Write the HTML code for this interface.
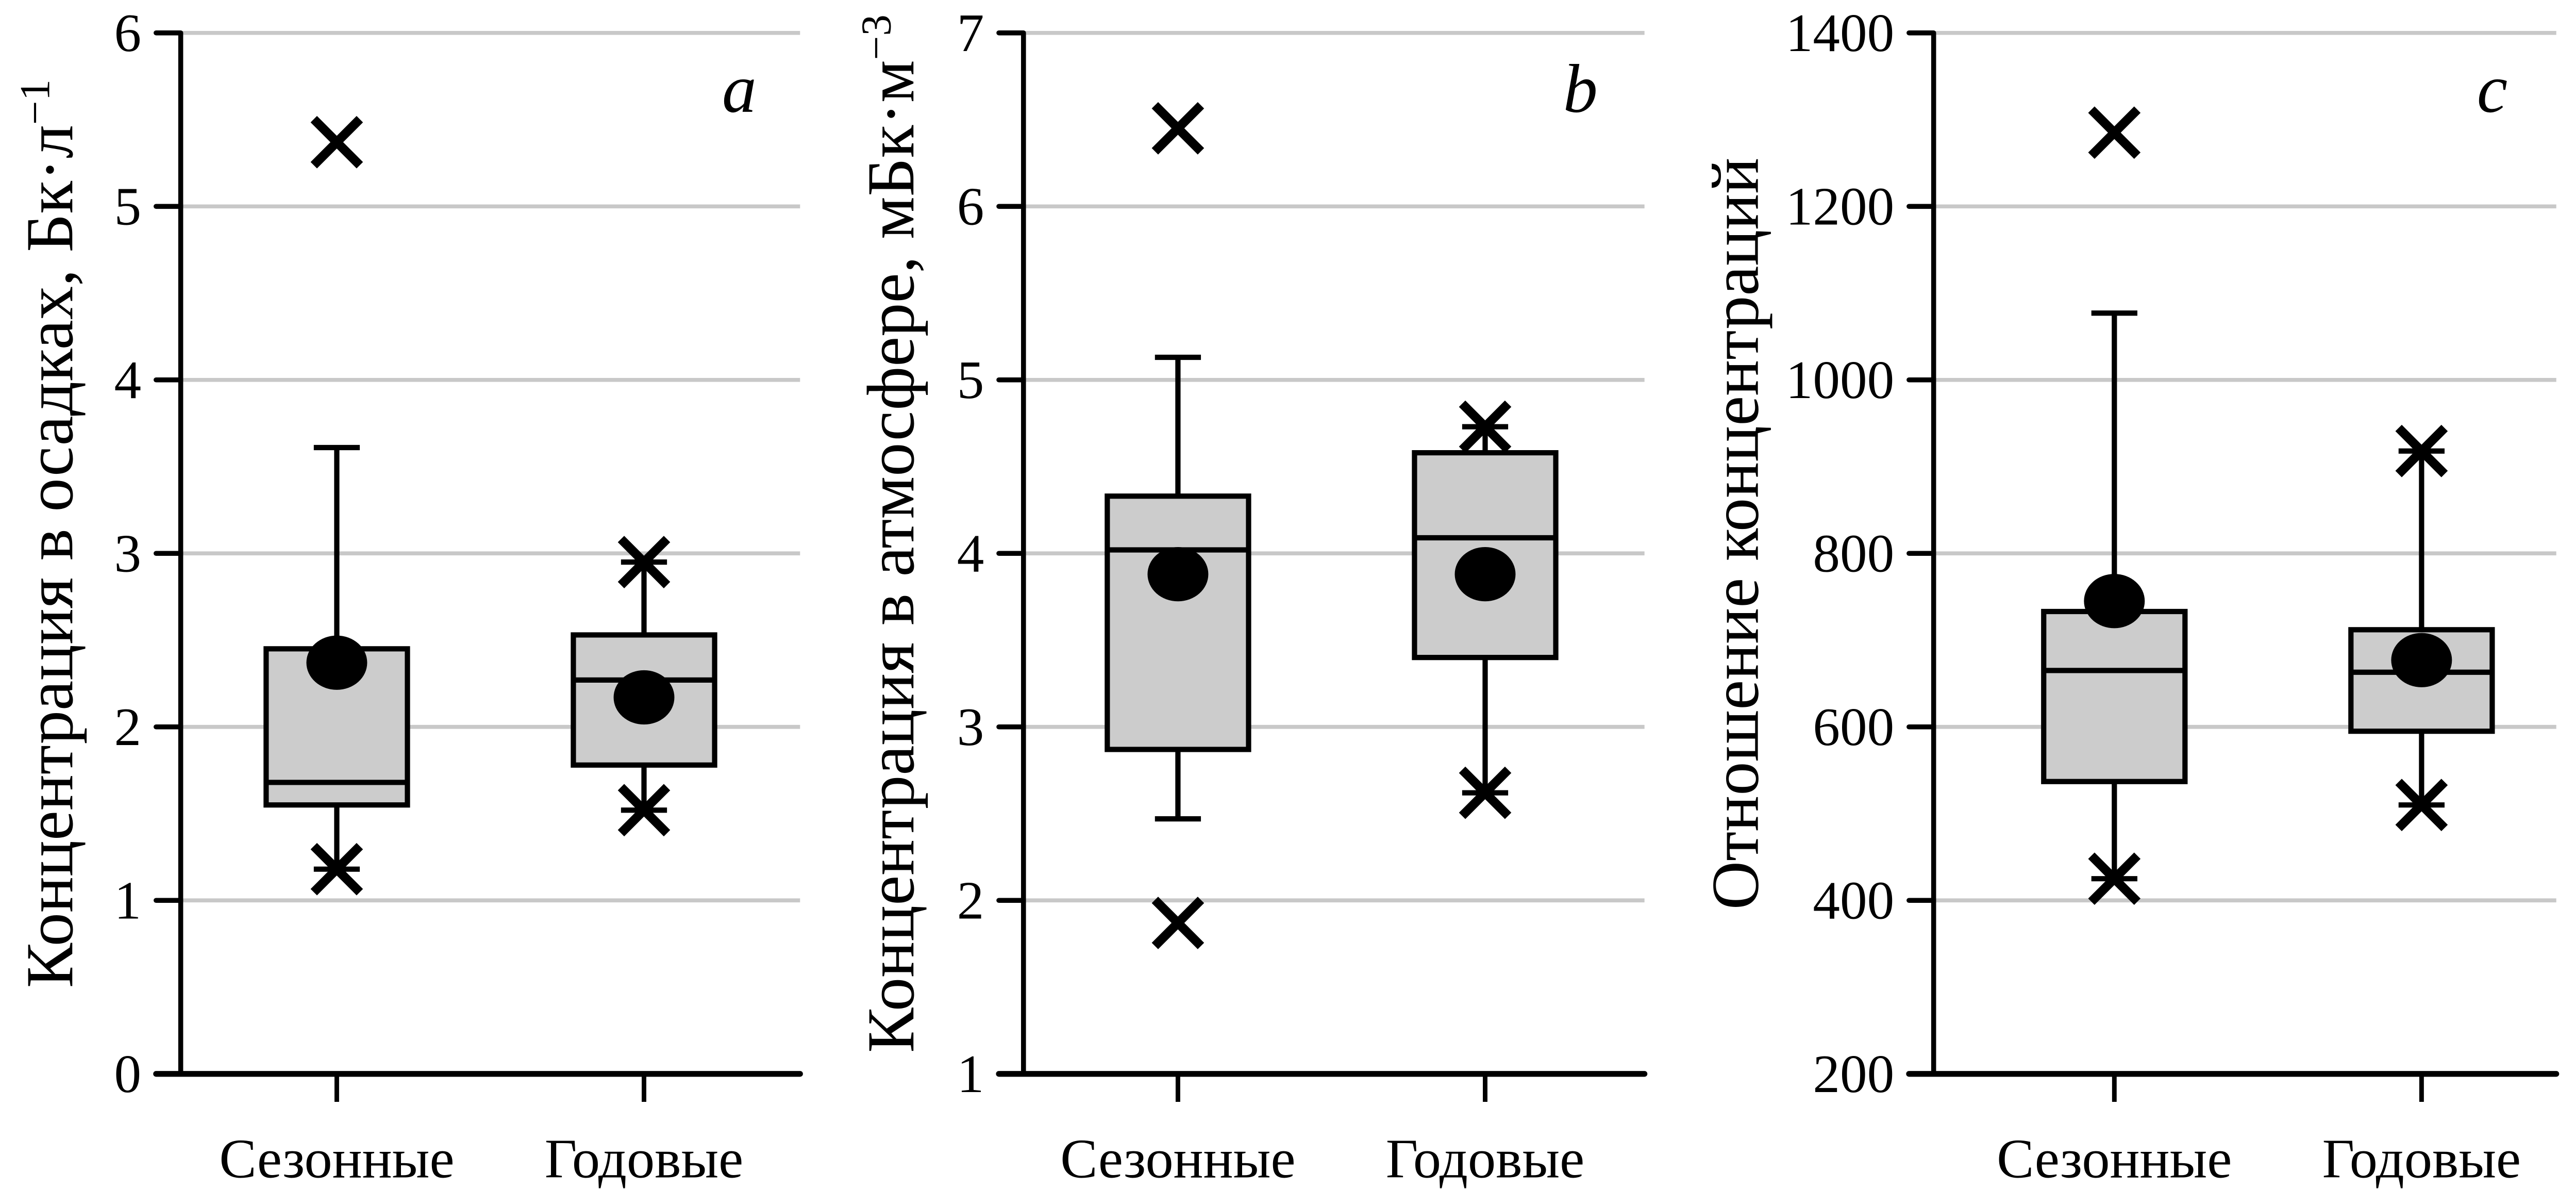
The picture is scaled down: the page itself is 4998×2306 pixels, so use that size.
<!DOCTYPE html>
<html><head><meta charset="utf-8">
<style>html,body{margin:0;padding:0;background:#fff}svg{display:block}svg text{font-family:"Liberation Serif","Times New Roman","DejaVu Serif","Noto Serif CJK SC",serif}</style>
</head><body>
<svg id="chart" xmlns="http://www.w3.org/2000/svg" width="4998" height="2306" viewBox="0 0 1568 723" preserveAspectRatio="none"></svg>
<script>
const categories = ['Сезонные','Годовые'];
// panel a
const aTicks = [0,1,2,3,4,5,6];
const aQ1 = [1.55,1.78], aMed = [1.68,2.27], aQ3 = [2.45,2.53], aMean = [2.37,2.17];
const aWLo = [1.18,1.52], aWHi = [3.61,2.95], aXLo = [1.18,1.52], aXHi = [5.37,2.95];
// panel b
const bTicks = [1,2,3,4,5,6,7];
const bQ1 = [2.87,3.40], bMed = [4.02,4.09], bQ3 = [4.33,4.58], bMean = [3.88,3.88];
const bWLo = [2.47,2.62], bWHi = [5.13,4.73], bXLo = [1.87,2.62], bXHi = [6.45,4.73];
// panel c
const cTicks = [200,400,600,800,1000,1200,1400];
const cQ1 = [537,595], cMed = [665,663], cQ3 = [733,712], cMean = [745,677];
const cWLo = [425,510], cWHi = [1077,918], cXLo = [425,510], cXHi = [1285,918];

const NS='http://www.w3.org/2000/svg';
const svg=document.getElementById('chart');
const FF='Liberation Serif, Times New Roman, DejaVu Serif, Noto Serif CJK SC, serif';
function mk(tag,attrs,parent){const e=document.createElementNS(NS,tag);for(const k in attrs)e.setAttribute(k,attrs[k]);if(tag==='text')e.setAttribute('font-family',FF);(parent||svg).appendChild(e);return e;}

const panels=[
 {id:'a',ax:110,right:487,cats:[205,392],ticks:aTicks,q1:aQ1,med:aMed,q3:aQ3,mean:aMean,wlo:aWLo,whi:aWHi,xlo:aXLo,xhi:aXHi,
  title:'Концентрация в осадках, Бк·л',sup:'−1',tx:44,letter:'a',lx:450},
 {id:'b',ax:623,right:1001,cats:[717,904],ticks:bTicks,q1:bQ1,med:bMed,q3:bQ3,mean:bMean,wlo:bWLo,whi:bWHi,xlo:bXLo,xhi:bXHi,
  title:'Концентрация в атмосфере, мБк·м',sup:'−3',tx:556,letter:'b',lx:962},
 {id:'c',ax:1177,right:1556,cats:[1287,1474],ticks:cTicks,q1:cQ1,med:cMed,q3:cQ3,mean:cMean,wlo:cWLo,whi:cWHi,xlo:cXLo,xhi:cXHi,
  title:'Отношение концентраций',sup:'',tx:1070,letter:'c',lx:1517}
];
const TOP=20,BOT=653,SW=3.2;
panels.forEach(p=>{
  const g=mk('g',{});
  
  
  const lo=p.ticks[0],hi=p.ticks[p.ticks.length-1];
  const y=v=>BOT-(v-lo)/(hi-lo)*(BOT-TOP);
  p.ticks.forEach((t,i)=>{
    if(i>0){const gl=mk('line',{x1:p.ax,x2:p.right,y1:y(t),y2:y(t),stroke:'#c8c8c8','stroke-width':2.4},g);
      
      }
    const tk=mk('line',{x1:p.ax-15,x2:p.ax,y1:y(t),y2:y(t),stroke:'#000','stroke-width':3,'stroke-linecap':'round'},g);
    
    
    const tl=mk('text',{x:p.ax-24,y:y(t)+11,'text-anchor':'end','font-size':33},g);
    tl.textContent=t;
    
    
  });
  const ya=mk('line',{x1:p.ax,x2:p.ax,y1:TOP,y2:BOT,stroke:'#000','stroke-width':3},g);
  
  
  const xa=mk('line',{x1:p.ax-15,x2:p.right,y1:BOT,y2:BOT,stroke:'#000','stroke-width':3.5,'stroke-linecap':'round'},g);
  
  
  categories.forEach((c,i)=>{
    const cx=p.cats[i],hw=43;
    const xt=mk('line',{x1:cx,x2:cx,y1:BOT,y2:670,stroke:'#000','stroke-width':2.8},g);
    
    
    const cl=mk('text',{x:cx,y:716,'text-anchor':'middle','font-size':34},g);
    cl.textContent=c;
    
    
    const w1=mk('line',{x1:cx,x2:cx,y1:y(p.whi[i]),y2:y(p.q3[i]),stroke:'#000','stroke-width':SW},g);
    
    
    const w2=mk('line',{x1:cx,x2:cx,y1:y(p.q1[i]),y2:y(p.wlo[i]),stroke:'#000','stroke-width':SW},g);
    
    
    const c1=mk('line',{x1:cx-14,x2:cx+14,y1:y(p.whi[i]),y2:y(p.whi[i]),stroke:'#000','stroke-width':SW},g);
    
    
    const c2=mk('line',{x1:cx-14,x2:cx+14,y1:y(p.wlo[i]),y2:y(p.wlo[i]),stroke:'#000','stroke-width':SW},g);
    
    
    const bx=mk('rect',{x:cx-hw,y:y(p.q3[i]),width:2*hw,height:y(p.q1[i])-y(p.q3[i]),fill:'#cccccc',stroke:'#000','stroke-width':SW},g);
    
    
    const md=mk('line',{x1:cx-hw,x2:cx+hw,y1:y(p.med[i]),y2:y(p.med[i]),stroke:'#000','stroke-width':SW},g);
    
    
    const mn=mk('ellipse',{cx:cx,cy:y(p.mean[i]),rx:18.5,ry:16.5,fill:'#000'},g);
    
    
    [p.xlo[i],p.xhi[i]].forEach(v=>{
      const yy=y(v),s=14;
      const xm=mk('path',{d:`M${cx-s} ${yy-s}L${cx+s} ${yy+s}M${cx-s} ${yy+s}L${cx+s} ${yy-s}`,stroke:'#000','stroke-width':5.5,fill:'none'},g);
      
      
    });
  });
  const cy=(TOP+BOT)/2-12;
  const tt=mk('text',{x:p.tx,y:cy,transform:`rotate(-90 ${p.tx} ${cy})`,'text-anchor':'middle','font-size':41},g);
  
  
  const m=mk('tspan',{},tt);m.textContent=p.title;
  if(p.sup){const s=mk('tspan',{dy:-14,'font-size':26},tt);s.textContent=p.sup;}
  const lt=mk('text',{x:p.lx,y:68,'font-size':42,'font-style':'italic','text-anchor':'middle'},g);
  lt.textContent=p.letter;
  
  
});
</script>
</body></html>
